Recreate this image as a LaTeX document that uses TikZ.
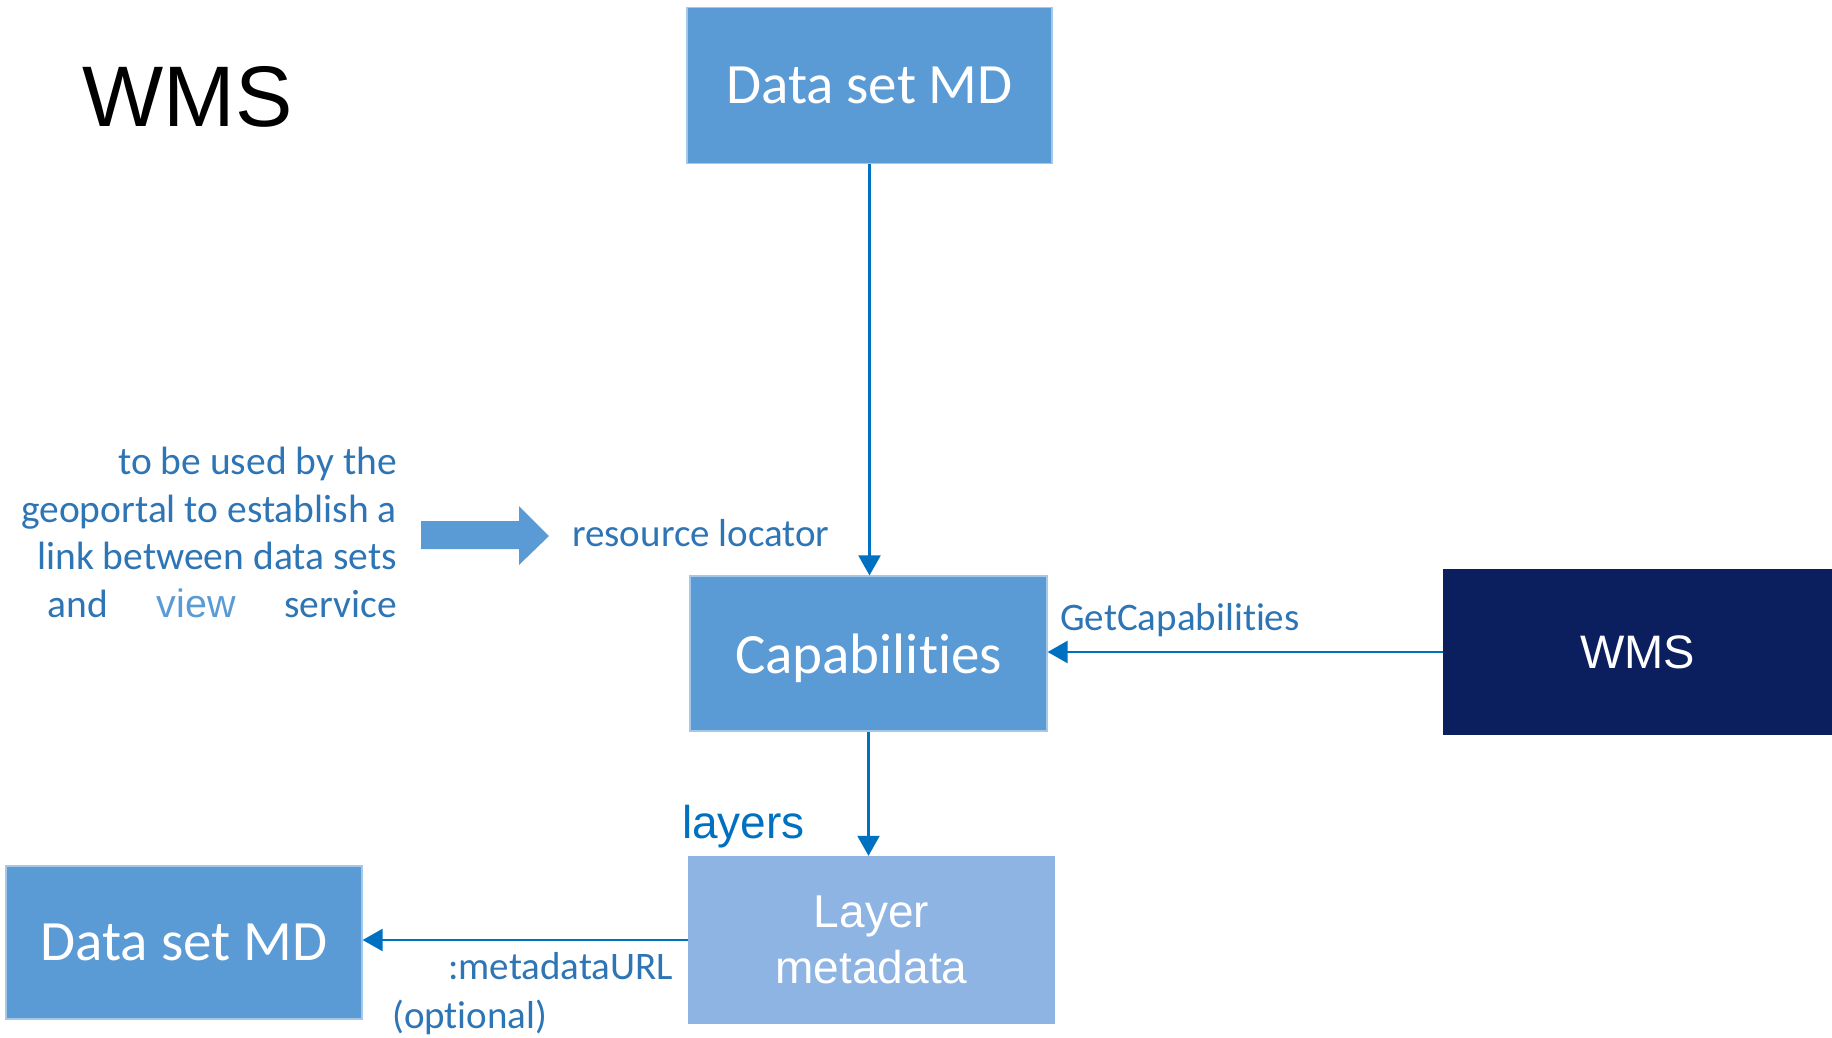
\documentclass[tikz,border=0pt]{standalone}
\usepackage{fontspec}
\setmainfont[Ligatures=NoCommon]{Carlito}
\newfontfamily\arialfont{Liberation Sans}
\usetikzlibrary{arrows.meta,positioning}
\definecolor{mdblue}{HTML}{5B9BD5}
\definecolor{layerblue}{HTML}{8EB4E3}
\definecolor{navyblue}{HTML}{0B1F5E}
\definecolor{textblue}{HTML}{2E75B6}
\definecolor{darkblue}{HTML}{0070C0}
\definecolor{linkblue}{HTML}{3A8AD2}
\tikzset{
  box/.style={
    fill=mdblue,
    draw=mdblue!55!white,
    line width=1.2pt,
    text=white,
    align=center,
    inner sep=0pt,
    font=\fontsize{57}{68}\selectfont
  },
  layerbox/.style={
    fill=layerblue,
    text=white,
    align=center,
    inner sep=0pt,
    font=\arialfont\fontsize{46}{56}\selectfont
  },
  servicebox/.style={
    fill=navyblue,
    text=white,
    inner sep=0pt,
    font=\arialfont\fontsize{47}{56}\selectfont
  },
  note/.style={
    text=textblue,
    inner sep=0pt,
    font=\fontsize{39}{47}\selectfont
  },
  arrow/.style={-{Triangle[length=20pt,width=22pt]}, line width=2.2pt, draw=linkblue, color=darkblue}
}

\begin{document}
\begin{tikzpicture}[x=1pt, y=-1pt]
\useasboundingbox (0,0) rectangle (1832,1037);

\node[font=\arialfont\fontsize{86}{86}\selectfont, anchor=base west, inner sep=0pt] (title) at (82,126) {WMS};

\node[box, minimum width=365pt, minimum height=156pt] (dstop) at (869.5,85.5) {Data set MD};
\node[box, minimum width=357pt, minimum height=155pt, text depth=-6pt] (capab) at (868.5,653.5) {Capabilities};
\node[servicebox, minimum width=389pt, minimum height=166pt] (wms) at (1637.5,652) {WMS};
\node[layerbox, minimum width=367pt, minimum height=168pt] (layer) at (871.5,940) {Layer\\metadata};
\node[box, minimum width=356pt, minimum height=153pt] (dsleft) at (184,942.5) {Data set MD};

% Labels
\node[note, align=right, anchor=base east, font=\fontsize{39.5}{47.5}\selectfont] (usage) at (397,617) {to be used by the\\
geoportal to establish a\\
link between data sets\\
\hbox to 349pt{and\hfill{\arialfont\color{mdblue}view}\hfill service}};
\node[note, anchor=base west] (resloc) at (572,546) {resource locator};
\node[note, anchor=base west] (getcap) at (1060,630) {GetCapabilities};
\node[note, anchor=base west, text=darkblue, font=\arialfont\fontsize{46}{52}\selectfont] (layers) at (682,838) {layers};
\node[note, anchor=base west] (mdurl) at (448,979) {:metadataURL};
\node[note, anchor=base west] (optional) at (392,1028) {(optional)};

% Block arrow towards the resource locator
\fill[mdblue] (421,521) -- (519,521) -- (519,506) -- (549,536) -- (519,565) -- (519,549) -- (421,549) -- cycle;

\draw[arrow] (dstop.south) -- (dstop.south |- capab.north);
\draw[arrow] (capab.south) -- (capab.south |- layer.north);
\draw[arrow] (wms.west) -- (wms.west -| capab.east);
\draw[arrow] (layer.west) -- (layer.west -| dsleft.east);

\end{tikzpicture}
\end{document}
